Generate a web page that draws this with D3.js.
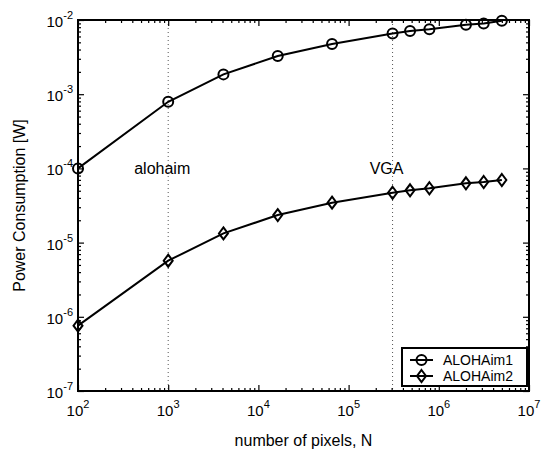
<!DOCTYPE html>
<html>
<head>
<meta charset="utf-8">
<script src="https://cdn.jsdelivr.net/npm/d3@7"></script>
<style>
  body { margin: 0; background: #fff; }
  text { font-family: "Liberation Sans", Arial, sans-serif; fill: #000; }
</style>
</head>
<body>
<div id="chart"></div>
<script>
// number of pixels and power for the two imager designs
var pixels = [100, 1000, 4096, 16384, 65536, 307200, 480000, 786432, 2000000, 3145728, 5000000];
var aloha1 = [1.0e-4, 7.9e-4, 1.85e-3, 3.27e-3, 4.75e-3, 6.6e-3, 7.1e-3, 7.5e-3, 8.6e-3, 9.0e-3, 9.8e-3];
var aloha2 = [7.6e-7, 5.7e-6, 1.33e-5, 2.35e-5, 3.45e-5, 4.7e-5, 5.07e-5, 5.4e-5, 6.3e-5, 6.56e-5, 6.98e-5];
var seriesNames = ["ALOHAim1", "ALOHAim2"];

var xDecades = [2, 3, 4, 5, 6, 7];
var yDecades = [-7, -6, -5, -4, -3, -2];

// reference lines and their labels
var markLines = [1000, 307200];
var markLabels = [{ text: "alohaim", x: 1000, y: 1e-4 }, { text: "VGA", x: 307200, y: 1e-4 }];

var margin = { top: 20, right: 12, bottom: 58, left: 78 };
var width = 541 - margin.left - margin.right;
var height = 449 - margin.top - margin.bottom;

var svgMain = d3.select("#chart").append("svg")
  .attr("width", 541)
  .attr("height", 449);

var svg = svgMain.append("g")
  .attr("transform", "translate(" + margin.left + "," + margin.top + ")");

var xScale = d3.scaleLog().domain([1e2, 1e7]).range([0, width]);
var yScale = d3.scaleLog().domain([1e-7, 1e-2]).range([height, 0]);

// minor tick values (2..9 of each decade)
function minorTicks(decades) {
  var out = [];
  decades.slice(0, -1).forEach(function (d) {
    for (var k = 2; k <= 9; k++) out.push(k * Math.pow(10, d));
  });
  return out;
}
var xMajor = xDecades.map(function (d) { return Math.pow(10, d); });
var yMajor = yDecades.map(function (d) { return Math.pow(10, d); });

// dotted reference lines
markLines.forEach(function (v) {
  svg.append("line")
    .attr("x1", xScale(v)).attr("x2", xScale(v))
    .attr("y1", 0).attr("y2", height)
    .attr("stroke", "#555")
    .attr("stroke-width", 1)
    .attr("stroke-dasharray", "1,3");
});

// axes: ticks pointing inwards on all four sides
function addAxis(axis, transform, values, size) {
  svg.append("g")
    .attr("transform", transform)
    .call(axis.tickValues(values).tickSize(size).tickFormat(""))
    .call(function (g) {
      g.select(".domain").remove();
      g.selectAll("line").attr("stroke", "#000").attr("stroke-width", 1.2);
    });
}
addAxis(d3.axisBottom(xScale), "translate(0," + height + ")", xMajor, -6);
addAxis(d3.axisBottom(xScale), "translate(0," + height + ")", minorTicks(xDecades), -3);
addAxis(d3.axisTop(xScale), "translate(0,0)", xMajor, -6);
addAxis(d3.axisTop(xScale), "translate(0,0)", minorTicks(xDecades), -3);
addAxis(d3.axisLeft(yScale), "translate(0,0)", yMajor, -6);
addAxis(d3.axisLeft(yScale), "translate(0,0)", minorTicks(yDecades), -3);
addAxis(d3.axisRight(yScale), "translate(" + width + ",0)", yMajor, -6);
addAxis(d3.axisRight(yScale), "translate(" + width + ",0)", minorTicks(yDecades), -3);

// frame
svg.append("rect")
  .attr("width", width)
  .attr("height", height)
  .attr("fill", "none")
  .attr("stroke", "#000")
  .attr("stroke-width", 2);

// tick labels with superscripted exponents
xDecades.forEach(function (d) {
  var t = svg.append("text")
    .attr("x", xScale(Math.pow(10, d)))
    .attr("y", height + 25)
    .attr("text-anchor", "middle")
    .style("font-size", "15px");
  t.append("tspan").text("10");
  t.append("tspan").attr("dy", -8).style("font-size", "11px").text(d);
});
yDecades.forEach(function (d) {
  var t = svg.append("text")
    .attr("x", -5)
    .attr("y", yScale(Math.pow(10, d)) + 7)
    .attr("text-anchor", "end")
    .style("font-size", "15px");
  t.append("tspan").text("10");
  t.append("tspan").attr("dy", -8).style("font-size", "11px").text(d);
});

// axis titles
svg.append("text")
  .attr("x", width / 2)
  .attr("y", height + 55)
  .attr("text-anchor", "middle")
  .style("font-size", "16px")
  .text("number of pixels, N");

svg.append("text")
  .attr("transform", "rotate(-90)")
  .attr("x", -height / 2)
  .attr("y", -53)
  .attr("text-anchor", "middle")
  .style("font-size", "16px")
  .text("Power Consumption [W]");

// reference labels
markLabels.forEach(function (m) {
  svg.append("text")
    .attr("x", xScale(m.x) - 6)
    .attr("y", yScale(m.y) + 6)
    .attr("text-anchor", "middle")
    .style("font-size", "16px")
    .text(m.text);
});

var line = d3.line()
  .x(function (d, i) { return xScale(pixels[i]); })
  .y(function (d) { return yScale(d); });

function diamondPath(cx, cy) {
  return "M" + cx + "," + (cy - 6) + "L" + (cx + 4.5) + "," + cy + "L" + cx + "," + (cy + 6) + "L" + (cx - 4.5) + "," + cy + "Z";
}

// series 1: circles
svg.append("path")
  .datum(aloha1)
  .attr("fill", "none")
  .attr("stroke", "#000")
  .attr("stroke-width", 2)
  .attr("d", line);
svg.selectAll("circle.s1")
  .data(aloha1)
  .enter().append("circle")
  .attr("class", "s1")
  .attr("cx", function (d, i) { return xScale(pixels[i]); })
  .attr("cy", function (d) { return yScale(d); })
  .attr("r", 5)
  .attr("fill", "none")
  .attr("stroke", "#000")
  .attr("stroke-width", 2);

// series 2: diamonds
svg.append("path")
  .datum(aloha2)
  .attr("fill", "none")
  .attr("stroke", "#000")
  .attr("stroke-width", 2)
  .attr("d", line);
svg.selectAll("path.s2")
  .data(aloha2)
  .enter().append("path")
  .attr("class", "s2")
  .attr("d", function (d, i) { return diamondPath(xScale(pixels[i]), yScale(d)); })
  .attr("fill", "none")
  .attr("stroke", "#000")
  .attr("stroke-width", 2);

// legend
var legend = svg.append("g")
  .attr("transform", "translate(" + (width - 127) + "," + (height - 43) + ")");
legend.append("rect")
  .attr("width", 125)
  .attr("height", 38)
  .attr("fill", "#fff")
  .attr("stroke", "#000")
  .attr("stroke-width", 2);
seriesNames.forEach(function (name, i) {
  var yy = 12 + i * 16;
  legend.append("line")
    .attr("x1", 8).attr("x2", 31)
    .attr("y1", yy).attr("y2", yy)
    .attr("stroke", "#000").attr("stroke-width", 2);
  if (i === 0) {
    legend.append("circle")
      .attr("cx", 19.5).attr("cy", yy).attr("r", 5)
      .attr("fill", "none").attr("stroke", "#000").attr("stroke-width", 2);
  } else {
    legend.append("path")
      .attr("d", diamondPath(19.5, yy))
      .attr("fill", "none").attr("stroke", "#000").attr("stroke-width", 2);
  }
  legend.append("text")
    .attr("x", 41)
    .attr("y", yy + 5)
    .style("font-size", "14px")
    .text(name);
});
</script>
</body>
</html>
